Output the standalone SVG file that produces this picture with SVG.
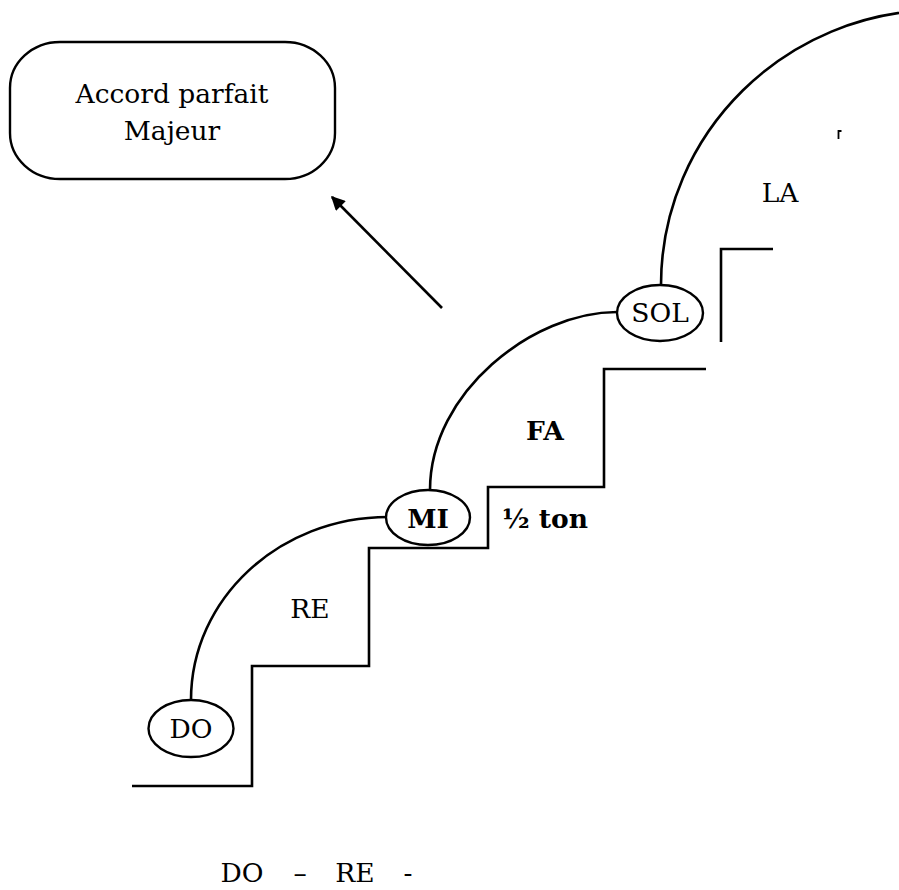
<svg xmlns="http://www.w3.org/2000/svg" width="899" height="890" viewBox="0 0 899 890">
<defs>
<style>
.ln{fill:none;stroke:#000;stroke-width:2.6}
.nd{fill:#fff;stroke:#000;stroke-width:2.4}
.t{font-family:"DejaVu Serif","Liberation Serif",serif;font-size:26.5px;fill:#000;text-anchor:middle}
.b{font-weight:bold}
</style>
<marker id="ah2" viewBox="0 0 10 10" refX="9" refY="5" markerWidth="17" markerHeight="14" orient="auto" markerUnits="userSpaceOnUse">
<path d="M0,0 L10,5 L0,10 z" fill="#000"/>
</marker>
</defs>
<rect width="899" height="890" fill="#fff"/>
<g id="connectors">
<path class="ln" d="M191,700 C191,599 279,517 388,517"/>
<path class="ln" d="M430,490 C430,392 533,312 617,312"/>
<path class="ln" d="M661,285 C661,133 786,10 940,10"/>
<line x1="442" y1="308" x2="332" y2="197" stroke="#000" stroke-width="2.6" marker-end="url(#ah2)"/>
</g>
<g id="stairs">
<path class="ln" d="M132,786 H252 V666 H369 V548 H488 V487 H604 V369 H706"/>
<path class="ln" d="M721,342 V249 H773"/>
<path fill="none" stroke="#000" stroke-width="1.8" d="M838.5,139 V131 H841.5"/>
</g>
<g id="accord">
<rect class="nd" x="10" y="42" width="325" height="137" rx="50" ry="46"/>
<text class="t" x="172" y="103">Accord parfait</text>
<text class="t" x="172" y="140">Majeur</text>
</g>
<g id="do">
<ellipse class="nd" cx="191" cy="728.5" rx="42.5" ry="28.5"/>
<text class="t" x="191" y="738">DO</text>
</g>
<g id="mi">
<ellipse class="nd" cx="428" cy="517.5" rx="42" ry="27.5"/>
<text class="t b" x="428" y="528">MI</text>
</g>
<g id="sol">
<ellipse class="nd" cx="660" cy="313" rx="43" ry="28"/>
<text class="t" x="660" y="322">SOL</text>
</g>
<g id="labels">
<text class="t" x="310" y="618">RE</text>
<text class="t b" x="545" y="440">FA</text>
<text class="t b" x="545" y="528">½ ton</text>
<text class="t" x="780" y="202">LA</text>
<text class="t" x="242" y="882">DO</text>
<text class="t" x="300" y="882">–</text>
<text class="t" x="355" y="882">RE</text>
<text class="t" x="408" y="882">-</text>
</g>
</svg>
